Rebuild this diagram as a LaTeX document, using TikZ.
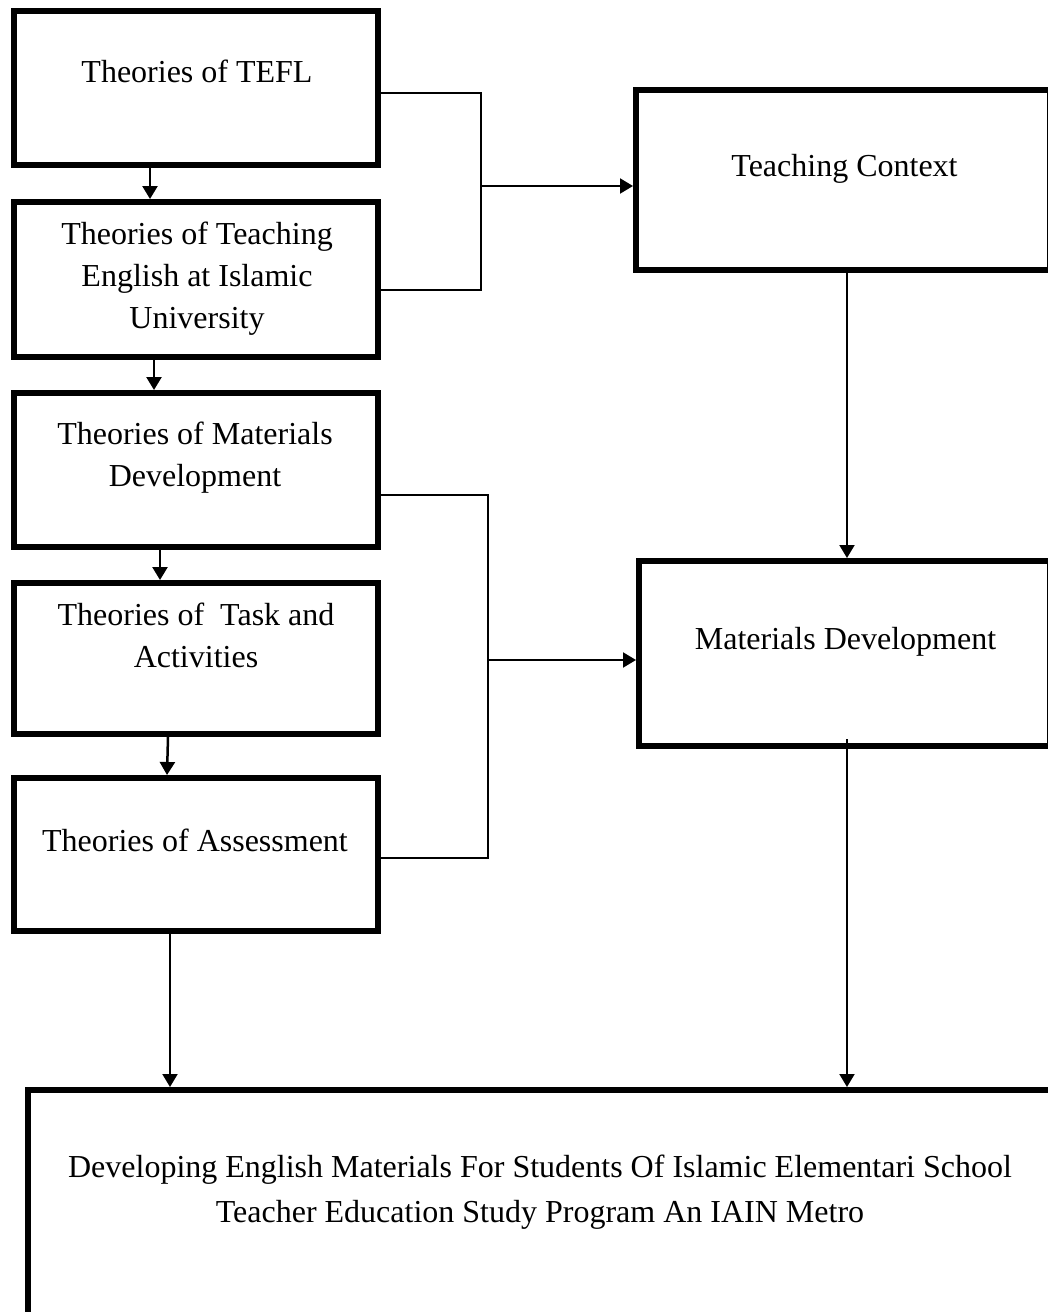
\documentclass[tikz,border=0pt]{standalone}
\usepackage{fontspec}
\setmainfont{Liberation Serif}
\usetikzlibrary{arrows.meta,fit}
\begin{document}
\begin{tikzpicture}[x=1pt,y=-1pt,
  box/.style={draw,line width=6pt,inner sep=0pt},
  lbl/.style={font=\fontsize{32}{42}\selectfont,align=center,anchor=base,inner sep=0pt},
  stem/.style={line width=2.5pt,-{Triangle[width=15pt,length=13pt]}},
  longarr/.style={line width=2pt,-{Triangle[width=15pt,length=13pt]}},
  link/.style={line width=1.7pt}]
\useasboundingbox (0,0) rectangle (1048,1312);
\clip (0,0) rectangle (1048,1312);
% boxes
\node[box,fit={(14,11) (378,165)}] (b1) {};
\node[box,fit={(14,202) (378,357)}] (b2) {};
\node[box,fit={(14,393) (378,547)}] (b3) {};
\node[box,fit={(14,583) (378,734)}] (b4) {};
\node[box,fit={(14,778) (378,931)}] (b5) {};
\node[box,fit={(636,90) (1050,270)}] (tc) {};
\node[box,fit={(639,561) (1050,746)}] (md) {};
\node[box,fit={(28,1090) (1070,1340)}] (bot) {};
% texts (anchor = baseline of the last line)
\node[lbl] (t1) at (197,82) {Theories of TEFL};
\node[lbl] (t2) at (197,328) {Theories of Teaching\\English at Islamic\\University};
\node[lbl] (t3) at (195,486) {Theories of Materials\\Development};
\node[lbl] (t4) at (196,667) {Theories of~ Task and\\Activities};
\node[lbl] (t5) at (195,851) {Theories of Assessment};
\node[lbl] (t6) at (844.5,176) {Teaching Context};
\node[lbl] (t7) at (845.5,649) {Materials Development};
\node[lbl,font=\fontsize{32}{45}\selectfont] (t8) at (540,1222)
  {Developing English Materials For Students Of Islamic Elementari School\\Teacher Education Study Program An IAIN Metro};
% vertical arrows on the left
\draw[stem] ([xshift=-46pt]b1.south) coordinate (s1) -- (s1 |- b2.north);
\draw[stem] ([xshift=-42pt]b2.south) coordinate (s2) -- (s2 |- b3.north);
\draw[stem] ([xshift=-36pt]b3.south) coordinate (s3) -- (s3 |- b4.north);
\draw[stem] ([xshift=-28pt]b4.south) -- ([xshift=-29pt]b5.north);
\draw[longarr] ([xshift=-26pt]b5.south) coordinate (s5) -- (s5 |- bot.north);
% right column
\draw[longarr] ([xshift=4pt]tc.south) coordinate (s6) -- (s6 |- md.north);
\draw[longarr] ([xshift=2.5pt,yshift=10pt]md.south) coordinate (s7) -- (s7 |- bot.north);
% bracket connectors
\coordinate (k1) at (481,93);
\coordinate (k2) at (481,290);
\coordinate (k0) at (481,186);
\draw[link] (b1.east |- k1) -- (k1) -- (k2) -- (b2.east |- k2);
\draw[longarr] (k0) -- (k0 -| tc.west);
\coordinate (k4) at (488,495);
\coordinate (k5) at (488,858);
\coordinate (k3) at (488,660);
\draw[link] (b3.east |- k4) -- (k4) -- (k5) -- (b5.east |- k5);
\draw[longarr] (k3) -- (k3 -| md.west);
\end{tikzpicture}
\end{document}
